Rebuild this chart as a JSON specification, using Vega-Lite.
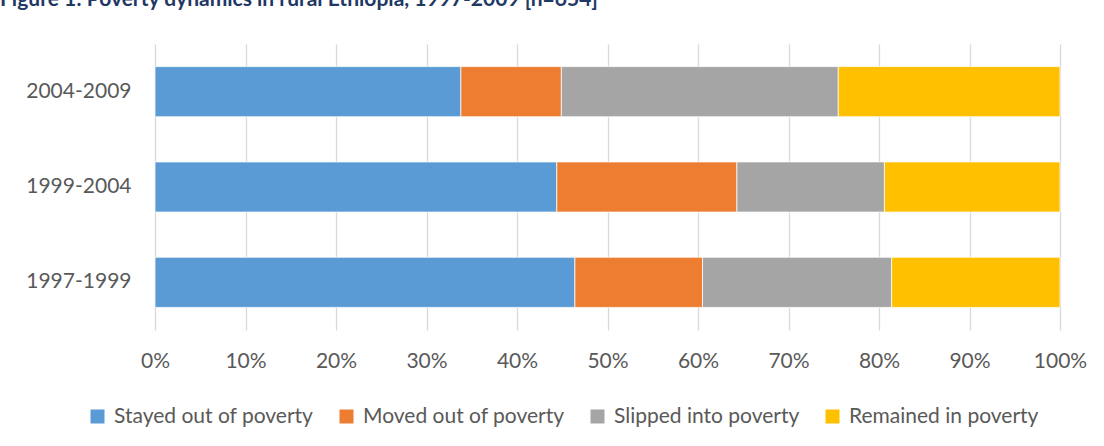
{
  "$schema": "https://vega.github.io/schema/vega-lite/v6.json",
  "autosize": {"type": "none"},
  "width": 905,
  "height": 286,
  "padding": {"left": 155, "right": 44, "top": 44, "bottom": 116},
  "background": "white",
  "title": {
    "text": "Figure 1: Poverty dynamics in rural Ethiopia, 1997-2009 [n=654]",
    "anchor": "start",
    "frame": "group",
    "dx": -155,
    "dy": -17,
    "offset": 0,
    "baseline": "alphabetic",
    "font": "Lato",
    "fontSize": 21,
    "fontWeight": "bold",
    "color": "#1F3864"
  },
  "data": {
    "values": [
      {"period": "2004-2009", "cat": "Stayed out of poverty", "i": 1, "pct": 33.8},
      {"period": "2004-2009", "cat": "Moved out of poverty", "i": 2, "pct": 11.1},
      {"period": "2004-2009", "cat": "Slipped into poverty", "i": 3, "pct": 30.6},
      {"period": "2004-2009", "cat": "Remained in poverty", "i": 4, "pct": 24.5},
      {"period": "1999-2004", "cat": "Stayed out of poverty", "i": 1, "pct": 44.4},
      {"period": "1999-2004", "cat": "Moved out of poverty", "i": 2, "pct": 19.9},
      {"period": "1999-2004", "cat": "Slipped into poverty", "i": 3, "pct": 16.3},
      {"period": "1999-2004", "cat": "Remained in poverty", "i": 4, "pct": 19.4},
      {"period": "1997-1999", "cat": "Stayed out of poverty", "i": 1, "pct": 46.4},
      {"period": "1997-1999", "cat": "Moved out of poverty", "i": 2, "pct": 14.1},
      {"period": "1997-1999", "cat": "Slipped into poverty", "i": 3, "pct": 20.9},
      {"period": "1997-1999", "cat": "Remained in poverty", "i": 4, "pct": 18.6}
    ]
  },
  "mark": {"type": "bar", "stroke": "white", "strokeWidth": 0.75},
  "encoding": {
    "y": {
      "field": "period",
      "type": "nominal",
      "sort": ["2004-2009", "1999-2004", "1997-1999"],
      "scale": {"paddingInner": 0.474, "paddingOuter": 0.237},
      "axis": {
        "title": null,
        "domain": false,
        "ticks": false,
        "grid": false,
        "labelPadding": 24,
        "labelFont": "Lato",
        "labelFontSize": 21,
        "labelColor": "#595959"
      }
    },
    "x": {
      "field": "pct",
      "type": "quantitative",
      "stack": "normalize",
      "scale": {"domain": [0, 1]},
      "axis": {
        "title": null,
        "format": "%",
        "values": [0, 0.1, 0.2, 0.3, 0.4, 0.5, 0.6, 0.7, 0.8, 0.9, 1],
        "domain": false,
        "ticks": false,
        "tickSize": 0,
        "grid": true,
        "gridColor": "#D9D9D9",
        "gridWidth": 1.3,
        "labelFlush": false,
        "labelPadding": 20,
        "labelFont": "Lato",
        "labelFontSize": 21,
        "labelColor": "#595959"
      }
    },
    "color": {
      "field": "cat",
      "type": "nominal",
      "scale": {
        "domain": ["Stayed out of poverty", "Moved out of poverty", "Slipped into poverty", "Remained in poverty"],
        "range": ["#5B9BD5", "#ED7D31", "#A5A5A5", "#FFC000"]
      },
      "legend": {
        "title": null,
        "orient": "none",
        "legendX": -68,
        "legendY": 362,
        "direction": "horizontal",
        "columns": 4,
        "gridAlign": "none",
        "padding": 0,
        "symbolType": "square",
        "symbolSize": 196,
        "symbolStrokeWidth": 0,
        "labelFont": "Lato",
        "labelFontSize": 21,
        "labelColor": "#595959",
        "labelLimit": 0,
        "labelOffset": 6,
        "columnPadding": 22
      }
    },
    "order": {"field": "i", "type": "quantitative"}
  },
  "config": {"view": {"stroke": null}}
}
